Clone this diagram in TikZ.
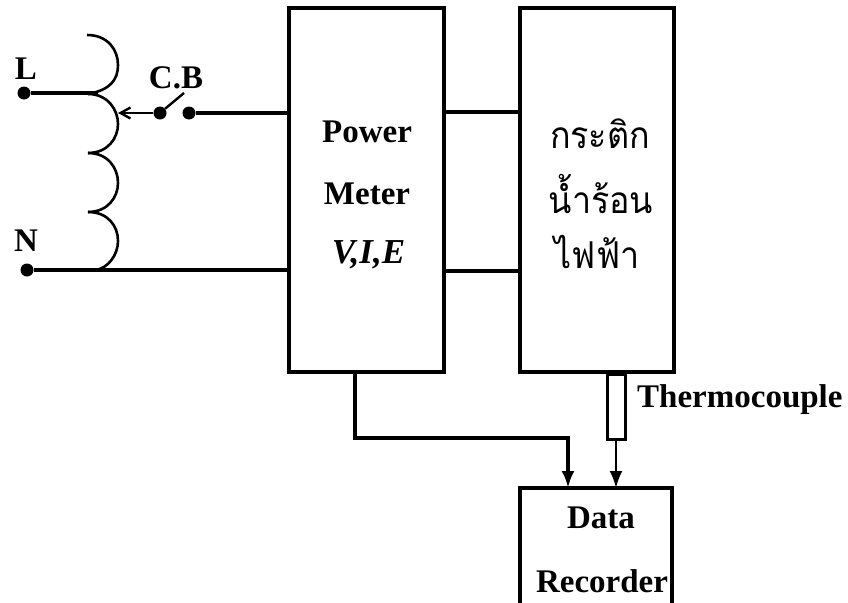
\documentclass[tikz,border=0pt]{standalone}
\usepackage{fontspec}
\setmainfont{Liberation Serif}
\newfontfamily\thaifont[Script=Thai]{Loma}
\usetikzlibrary{arrows.meta}
\tikzset{
  blockbox/.style={draw=black,line width=3.6pt,fill=white,minimum width=#1,inner sep=0pt,outer sep=0pt,anchor=north west},
  wire/.style={draw=black,line width=3.2pt},
  thin wire/.style={draw=black,line width=2.4pt},
  coil/.style={draw=black,line width=2.6pt},
  term/.style={circle,fill=black,inner sep=0pt,minimum size=13pt},
  lab/.style={font=\bfseries\fontsize{33}{33}\selectfont,inner sep=0pt},
  thailab/.style={font=\thaifont\fontsize{37}{37}\selectfont,inner sep=0pt,xscale=.92},
  tip/.style={-{Latex[length=17pt,width=13pt]}},
}
\begin{document}
\begin{tikzpicture}[x=1pt,y=-1pt]
\useasboundingbox (0,0) rectangle (848,602);
\node[blockbox=155pt,minimum height=364pt] (meter) at (289,8) {};
\node[blockbox=154pt,minimum height=364pt] (kettle) at (520,8) {};
\node[blockbox=152pt,minimum height=120pt] (rec) at (520,488) {};
\node[lab] (p1) at (367,132) {Power};
\node[lab] (p2) at (367,194) {Meter};
\node[lab,font=\bfseries\itshape\fontsize{35}{35}\selectfont] (p3) at (368.5,255) {V,I,E};
\node[thailab] (t1) at (600,134) {กระติก};
\node[thailab] (t2) at (601,194) {น้ำร้อน};
\node[thailab] (t3) at (597,252) {ไฟฟ้า};
\node[lab] (d1) at (601,518) {Data};
\node[lab] (d2) at (602,581) {Recorder};
\node[lab,anchor=west] (tc) at (637,400) {Thermocouple};
\node[lab] (ll) at (26,69) {L};
\node[lab] (nl) at (26,241) {N};
\node[lab] (cb) at (176,78) {C.B};
\node[term] (L) at (24,93) {};
\node[term] (N) at (27,270) {};
\node[term] (s1) at (160,113) {};
\node[term] (s2) at (189,113) {};
\coordinate (c0) at (87,35);
\coordinate (c1) at (88,94);
\coordinate (c2) at (88,153);
\coordinate (c3) at (88,212);
\coordinate (c4) at (96,270);
\coordinate (tapL) at (98,93);
\coordinate (tap) at (118,113);
\coordinate (lev) at (184,93);
\coordinate (m1) at (meter.west |- s2);
\coordinate (m2) at (meter.west |- N);
\coordinate (k1a) at (444,112);
\coordinate (k1b) at (520,112);
\coordinate (k2a) at (444,271);
\coordinate (k2b) at (520,271);
\coordinate (mo) at (355,372);
\coordinate (mm) at (355,438);
\coordinate (mc) at (568,438);
\coordinate (mr) at (568,488);
\coordinate (th) at (616,439);
\coordinate (thr) at (616,488);
\draw[coil] (c0) .. controls (108,35) and (118,50) .. (118,65) .. controls (118,80) and (110,90) .. (c1);
\draw[coil] (c1) .. controls (108,94) and (118,110) .. (118,124) .. controls (118,138) and (108,153) .. (c2);
\draw[coil] (c2) .. controls (108,153) and (118,168) .. (118,183) .. controls (118,197) and (108,212) .. (c3);
\draw[coil] (c3) .. controls (108,212) and (118,226) .. (118,241) .. controls (118,255) and (108,268) .. (c4);
\draw[wire] (L) -- (tapL);
\draw[wire] (N) -- (m2);
\draw[wire] (s2) -- (m1);
\draw[thin wire] (s1) -- (lev);
\draw[thin wire,-{Straight Barb[length=10pt,width=11pt]}] (s1) -- (tap);
\draw[wire] (k1a) -- (k1b);
\draw[wire] (k2a) -- (k2b);
\draw[wire,line width=3.6pt,tip] (mo) -- (mm) -- (mc) -- (mr);
\draw[draw=black,line width=3pt,fill=white] (607,374) rectangle (625,439);
\draw[thin wire,tip] (th) -- (thr);
\end{tikzpicture}
\end{document}
